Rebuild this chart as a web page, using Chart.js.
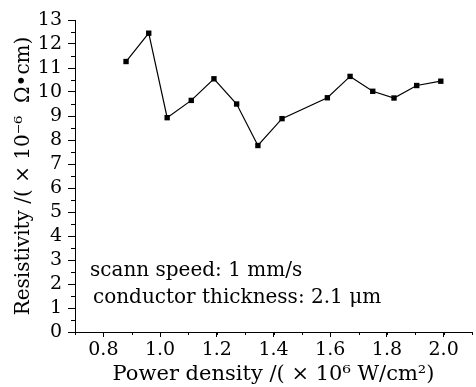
<!DOCTYPE html>
<html>
<head>
<meta charset="utf-8">
<script src="https://cdn.jsdelivr.net/npm/chart.js@4"></script>
<style>
  html, body { margin: 0; padding: 0; background: #fff; }
  #box { width: 476px; height: 387px; }
</style>
</head>
<body>
<div id="box"><canvas id="grafico"></canvas></div>
<script>
// dados
const potencia = [0.88, 0.96, 1.025, 1.11, 1.19, 1.27, 1.345, 1.43, 1.59, 1.67, 1.75, 1.825, 1.905, 1.99];
const resistividade = [11.27, 12.45, 8.93, 9.65, 10.55, 9.5, 7.77, 8.89, 9.76, 10.65, 10.03, 9.75, 10.27, 10.45];
const ticksX = [0.8, 1.0, 1.2, 1.4, 1.6, 1.8, 2.0];
const ticksY = [0, 1, 2, 3, 4, 5, 6, 7, 8, 9, 10, 11, 12, 13];
const notas = ["scann speed: 1 mm/s", "conductor thickness: 2.1 μm"];

const fonte = "'DejaVu Serif', 'Liberation Serif', serif";

// ticks menores + texto das condições
const extras = {
    id: "extras",
    afterDraw(chart) {
        const ctx = chart.ctx;
        const sx = chart.scales.x;
        const sy = chart.scales.y;
        ctx.save();
        ctx.strokeStyle = "#000";
        ctx.lineWidth = 1;
        ctx.beginPath();
        for (let v = 0.7; v <= 2.1001; v += 0.1) {
            const px = Math.round(sx.getPixelForValue(v)) + 0.5;
            ctx.moveTo(px, sy.bottom);
            ctx.lineTo(px, sy.bottom + 3);
        }
        for (let v = 0.5; v < 13; v += 1) {
            const py = Math.round(sy.getPixelForValue(v)) + 0.5;
            ctx.moveTo(sx.left, py);
            ctx.lineTo(sx.left - 4, py);
        }
        ctx.stroke();

        ctx.fillStyle = "#000";
        ctx.font = "20px " + fonte;
        ctx.textBaseline = "middle";
        ctx.fillText(notas[0], sx.left + 15, 271);
        ctx.fillText(notas[1], sx.left + 18, 298);
        ctx.restore();
    }
};

const graf = document.getElementById("grafico");

new Chart(graf, {
    type: "scatter",
    data: {
        datasets: [{
            data: potencia.map((p, i) => ({ x: p, y: resistividade[i] })),
            showLine: true,
            borderColor: "#000",
            borderWidth: 1.2,
            backgroundColor: "#000",
            pointStyle: "rect",
            pointRadius: 3.8,
            pointBorderWidth: 0,
            tension: 0
        }]
    },
    options: {
        responsive: true,
        maintainAspectRatio: false,
        animation: false,
        layout: { padding: { top: 20, right: 0, left: 0, bottom: 0 } },
        plugins: {
            legend: { display: false },
            tooltip: { enabled: false }
        },
        scales: {
            x: {
                type: "linear",
                min: 0.7,
                max: 2.1,
                afterBuildTicks: (s) => { s.ticks = ticksX.map(v => ({ value: v })); },
                afterFit: (s) => { s.height = 55; },
                border: { display: true, color: "#000", width: 1 },
                grid: { display: true, drawOnChartArea: false, drawTicks: true, tickLength: 5, color: "#000" },
                ticks: {
                    color: "#000",
                    padding: 2,
                    maxRotation: 0,
                    autoSkip: false,
                    font: { family: fonte, size: 19 },
                    callback: (v) => v.toFixed(1)
                },
                title: {
                    display: true,
                    text: "Power density /( × 10⁶ W/cm²)",
                    color: "#000",
                    font: { family: fonte, size: 21 },
                    padding: { top: 0, bottom: 0 }
                }
            },
            y: {
                type: "linear",
                min: 0,
                max: 13,
                afterBuildTicks: (s) => { s.ticks = ticksY.map(v => ({ value: v })); },
                afterFit: (s) => { s.width = 75; },
                border: { display: true, color: "#000", width: 1 },
                grid: { display: true, drawOnChartArea: false, drawTicks: true, tickLength: 7, color: "#000" },
                ticks: {
                    color: "#000",
                    padding: 6,
                    autoSkip: false,
                    font: { family: fonte, size: 19 }
                },
                title: {
                    display: true,
                    text: "Resistivity /( × 10⁻⁶  Ω•cm)",
                    color: "#000",
                    font: { family: fonte, size: 20 },
                    padding: { top: 12, bottom: 0 }
                }
            }
        }
    },
    plugins: [extras]
});
</script>
</body>
</html>
